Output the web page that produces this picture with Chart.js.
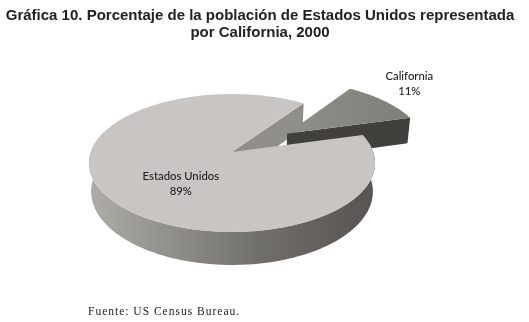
<!DOCTYPE html>
<html lang="es">
<head>
<meta charset="utf-8">
<title>Gráfica 10</title>
<script src="https://cdn.jsdelivr.net/npm/chart.js@4"></script>
<style>
  html, body { margin: 0; padding: 0; background: #fff; }
  #pie { display: block; }
</style>
</head>
<body>
<canvas id="pie" width="529" height="322"></canvas>
<script>
const categories = ["California", "Estados Unidos"];
const percentages = [11, 89];
const titleLines = [
  "Gráfica 10. Porcentaje de la población de Estados Unidos representada",
  "por California, 2000"
];
const sourceNote = "Fuente: US Census Bureau.";

// the old spreadsheet pie is 3D with perspective, so the plugin projects the arc angles
const view = { x: 232, y: 152, a: 141.2, b: 67.2, k: 0.159, depth: 27.8 };
const explode = [0.5, 0];
const labelRadius = [1.42, 0.55];
const labelTurn = [-3.6, -17]; // degrees away from the middle of the slice

function project(X, Y, low) {
  const w = 1 - view.k * Y;
  const squeeze = low ? 0.985 : 1;
  return {
    x: view.x + view.a * squeeze * X / w,
    y: view.y + (view.b * Y + (low ? view.depth : 0)) / w
  };
}

// Chart.js angles start at 3 o'clock, which is what cos/sin want here
function rimPoint(angle, off, low) {
  return project(off.X + Math.cos(angle), off.Y + Math.sin(angle), low);
}

function tracePoints(ctx, pts) {
  ctx.beginPath();
  pts.forEach((p, i) => i ? ctx.lineTo(p.x, p.y) : ctx.moveTo(p.x, p.y));
  ctx.closePath();
}

function arcPoints(from, to, off, low) {
  const pts = [];
  const n = Math.ceil(Math.abs(to - from) / 0.02);
  for (let i = 0; i <= n; i++) pts.push(rimPoint(from + (to - from) * i / n, off, low));
  return pts;
}

const pie3d = {
  id: "pie3d",
  beforeDatasetsDraw(chart) {
    const ctx = chart.ctx;
    const arcs = chart.getDatasetMeta(0).data;
    const colors = chart.data.datasets[0].backgroundColor;
    const offs = arcs.map((arc, i) => {
      const mid = (arc.startAngle + arc.endAngle) / 2;
      return { X: explode[i] * Math.cos(mid), Y: explode[i] * Math.sin(mid) };
    });
    const ca = arcs[0], us = arcs[1];
    const none = { X: 0, Y: 0 };

    // cut face of the big slice, seen through the gap
    tracePoints(ctx, [
      project(0, 0, false), rimPoint(ca.startAngle, none, false),
      rimPoint(ca.startAngle, none, true), project(0, 0, true)
    ]);
    ctx.fillStyle = "#8f8e89";
    ctx.fill();

    // California: dark cut face, then the top
    tracePoints(ctx, [
      project(offs[0].X, offs[0].Y, false), rimPoint(ca.endAngle, offs[0], false),
      rimPoint(ca.endAngle, offs[0], true), project(offs[0].X, offs[0].Y, true)
    ]);
    ctx.fillStyle = "#42403d";
    ctx.fill();

    tracePoints(ctx, [project(offs[0].X, offs[0].Y, false)].concat(arcPoints(ca.startAngle, ca.endAngle, offs[0], false)));
    const caFill = ctx.createLinearGradient(300, 0, 410, 0);
    caFill.addColorStop(0, "#8e8d88");
    caFill.addColorStop(1, colors[0]);
    ctx.fillStyle = caFill;
    ctx.fill();

    // outer wall of the big slice, front part only
    const wallEnd = Math.PI * 1.1;
    const wall = arcPoints(us.startAngle, wallEnd, none, false)
      .concat(arcPoints(wallEnd, us.startAngle, none, true));
    tracePoints(ctx, wall);
    const wallFill = ctx.createLinearGradient(90, 0, 372, 0);
    wallFill.addColorStop(0, "#aeaca7");
    wallFill.addColorStop(0.3, "#908e8a");
    wallFill.addColorStop(0.6, "#716f6b");
    wallFill.addColorStop(1, "#575451");
    ctx.fillStyle = wallFill;
    ctx.fill();

    // top of the big slice
    tracePoints(ctx, [project(0, 0, false)].concat(arcPoints(us.startAngle, us.endAngle, none, false)));
    ctx.fillStyle = colors[1];
    ctx.fill();

    // labels
    ctx.save();
    ctx.font = "500 11.3px Lato, sans-serif";
    ctx.fillStyle = "#222";
    ctx.textAlign = "center";
    ctx.textBaseline = "middle";
    arcs.forEach((arc, i) => {
      const mid = (arc.startAngle + arc.endAngle) / 2 + labelTurn[i] * Math.PI / 180;
      const r = labelRadius[i] + explode[i];
      const p = project(r * Math.cos(mid), r * Math.sin(mid), false);
      ctx.fillText(categories[i], p.x, p.y - 7.5);
      ctx.fillText(percentages[i] + "%", p.x, p.y + 7.5);
    });
    ctx.restore();
    return false; // arcs already painted
  },
  afterDraw(chart) {
    const ctx = chart.ctx;
    ctx.save();
    ctx.font = "11.5px 'Liberation Serif', serif";
    ctx.letterSpacing = "1px";
    ctx.fillStyle = "#222";
    ctx.textBaseline = "alphabetic";
    ctx.fillText(sourceNote, 88, 315);
    ctx.restore();
  }
};

new Chart(document.getElementById("pie"), {
  type: "pie",
  data: {
    labels: categories,
    datasets: [{
      data: percentages,
      backgroundColor: ["#7f7e79", "#c8c5c2"],
      borderWidth: 0
    }]
  },
  options: {
    responsive: false,
    animation: false,
    rotation: 35,
    layout: { padding: { right: 9 } },
    plugins: {
      legend: { display: false },
      tooltip: { enabled: false },
      title: {
        display: true,
        text: titleLines,
        color: "#222",
        font: { family: "'Liberation Sans', Arial, sans-serif", size: 15, weight: "bold", lineHeight: 1.15 },
        padding: { top: 7, bottom: 0 }
      }
    }
  },
  plugins: [pie3d]
});
</script>
</body>
</html>
